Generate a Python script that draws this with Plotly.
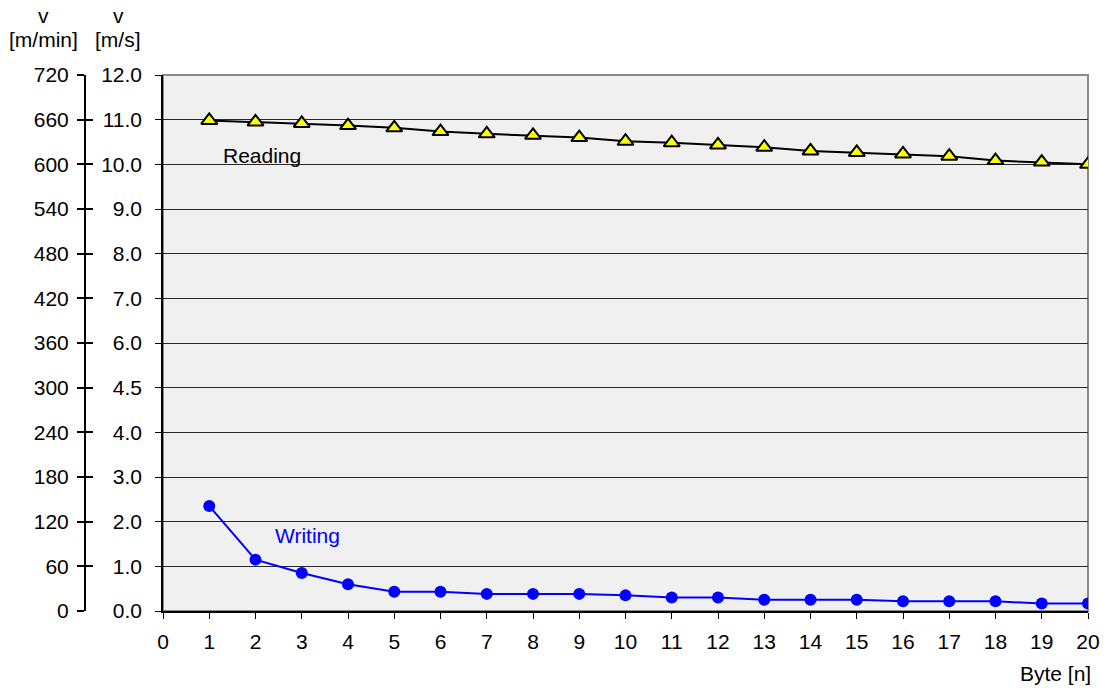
import plotly.graph_objects as go

bytes_n = list(range(1, 21))
reading_m_min = [659, 657, 655, 652, 649, 644, 641, 639, 636, 631,
                 629, 626, 623, 618, 616, 614, 611, 605, 603, 600]
writing_m_min = [141, 69, 51, 36, 26, 26, 23, 23, 23, 21,
                 18, 18, 15, 15, 15, 13, 13, 13, 10, 10]

y_tickvals = list(range(0, 721, 60))
m_min_labels = [str(v) for v in y_tickvals]
m_s_labels = ["0.0", "1.0", "2.0", "3.0", "4.0", "4.5", "6.0",
              "7.0", "8.0", "9.0", "10.0", "11.0", "12.0"]
x_tickvals = list(range(0, 21))

FONT = "Liberation Sans, Arial, sans-serif"
FS = 21
W, H = 1109, 688
ML, MR, MT, MB = 20, 21, 75, 77
PW = W - ML - MR
PH = H - MT - MB
PLOT_LEFT = 163
PLOT_BOTTOM = H - MB

def px_x(p):
    return (p - ML) / PW

def px_y(p):
    return (PLOT_BOTTOM - p) / PH

fig = go.Figure()

fig.add_trace(go.Scatter(
    x=bytes_n, y=reading_m_min, mode="lines+markers",
    line=dict(color="black", width=2),
    marker=dict(symbol="triangle-up", size=14, color="#ffff00",
                line=dict(color="black", width=2)),
    showlegend=False, hoverinfo="skip"))

fig.add_trace(go.Scatter(
    x=bytes_n, y=writing_m_min, mode="lines+markers",
    line=dict(color="#0000ff", width=2),
    marker=dict(symbol="circle", size=12, color="#0000ff"),
    showlegend=False, hoverinfo="skip"))

# invisible traces so the extra axes are drawn
fig.add_trace(go.Scatter(x=[None], y=[None], yaxis="y2", showlegend=False))
fig.add_trace(go.Scatter(x=[None], y=[None], yaxis="y3", showlegend=False))

axis_font = dict(family=FONT, size=FS, color="black")

fig.update_layout(
    width=W, height=H,
    margin=dict(l=ML, r=MR, t=MT, b=MB, autoexpand=False),
    paper_bgcolor="white",
    plot_bgcolor="#eff0ef",
    font=dict(family=FONT, size=FS, color="black"),
    xaxis=dict(
        domain=[px_x(PLOT_LEFT), 1], range=[0, 20],
        tickvals=x_tickvals, ticks="outside", ticklen=6, tickcolor="black",
        tickwidth=1, showline=True, linecolor="black", linewidth=1.5,
        showgrid=False, zeroline=False, tickfont=axis_font,
        ticklabelstandoff=5),
    yaxis=dict(
        range=[0, 720], tickvals=y_tickvals, ticktext=m_s_labels,
        ticks="outside", ticklen=6, tickcolor="black",
        showline=True, linecolor="black", linewidth=1.5,
        showgrid=True, gridcolor="#2a2a2a", gridwidth=1,
        zeroline=False, tickfont=axis_font, ticklabelstandoff=9),
    yaxis2=dict(
        overlaying="y", anchor="free", position=px_x(85), side="left",
        range=[0, 720], tickvals=y_tickvals, ticktext=m_min_labels,
        ticks="outside", ticklen=7, tickcolor="black", tickwidth=1.5,
        showline=True, linecolor="black", linewidth=2,
        showgrid=False, zeroline=False, tickfont=axis_font,
        ticklabelstandoff=4),
    yaxis3=dict(
        overlaying="y", anchor="free", position=px_x(85), side="left",
        range=[0, 720], tickvals=y_tickvals,
        ticks="inside", ticklen=7, tickcolor="black", tickwidth=1.5,
        showline=False, showticklabels=False,
        showgrid=False, zeroline=False),
)

fig.add_shape(type="rect", xref="x domain", yref="y domain",
              x0=0, x1=1, y0=0, y1=1,
              line=dict(color="#8a8a8a", width=2), layer="below")

ann = []
ann.append(dict(text="v", x=px_x(43), y=px_y(15)))
ann.append(dict(text="[m/min]", x=px_x(43), y=px_y(40)))
ann.append(dict(text="v", x=px_x(118), y=px_y(15)))
ann.append(dict(text="[m/s]", x=px_x(118), y=px_y(40)))
ann.append(dict(text="Byte [n]", x=px_x(1055), y=px_y(673)))
for a in ann:
    fig.add_annotation(xref="paper", yref="paper", showarrow=False,
                       xanchor="center", yanchor="middle",
                       font=dict(family=FONT, size=FS, color="black"), **a)

fig.add_annotation(text="Reading", x=1.25, y=612, xref="x", yref="y",
                   showarrow=False, xanchor="left", yanchor="middle",
                   font=dict(family=FONT, size=FS, color="black"))
fig.add_annotation(text="Writing", x=2.38, y=101, xref="x", yref="y",
                   showarrow=False, xanchor="left", yanchor="middle",
                   font=dict(family=FONT, size=FS, color="#0000ff"))

fig.write_html("out.html",
               config={"displayModeBar": False},
               post_script="document.body.style.margin='0';"
                           "document.body.style.overflow='hidden';")
